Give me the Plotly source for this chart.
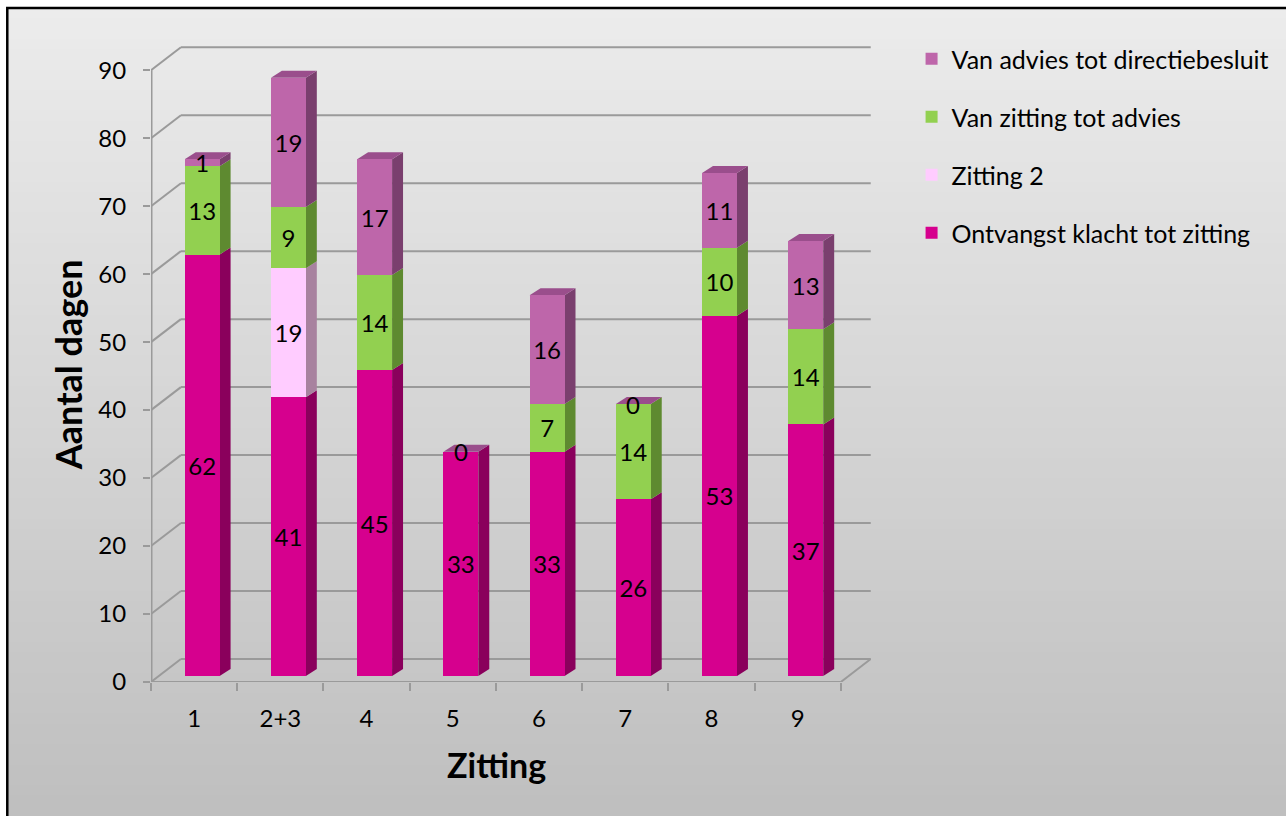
import plotly.graph_objects as go

# ---------------- data ----------------
categories = ["1", "2+3", "4", "5", "6", "7", "8", "9"]
ontvangst = [62, 41, 45, 33, 33, 26, 53, 37]
zitting2 = [None, 19, None, None, None, None, None, None]
zitting_advies = [13, 9, 14, None, 7, 14, 10, 14]
advies_besluit = [1, 19, 17, 0, 16, 0, 11, 13]
series_names = ["Ontvangst klacht tot zitting", "Zitting 2",
                "Van zitting tot advies", "Van advies tot directiebesluit"]
y_ticks = [0, 10, 20, 30, 40, 50, 60, 70, 80, 90]
x_title = "Zitting"
y_title = "Aantal dagen"

# ---------------- styles ----------------
front_colors = ["#D6008E", "#FFCCFF", "#92D050", "#BE66AA"]
side_colors = ["#8A005C", "#A8829F", "#5E8A30", "#7A3F6E"]
top_colors = ["#B0007A", "#E6B0E6", "#7DB040", "#9A4E8C"]
FONT = "Lato"
FS = 24
GRID = "#9a9a9a"

FIG_W, FIG_H = 1286, 816
PL, PR, PT, PB = 151, 872.4, 43, 682   # plot area in pixels
X_RANGE = [-0.5, 7.85]
Y_RANGE = [0, 94]
BAR_SHIFT = 0.882                     # bars sit slightly behind the front floor edge
BAR_W = 0.405
BAR_OFF = -0.109
DX, DY = 0.127, 1.03                  # bar depth
WDX, WDY = 0.347, 3.38                # wall depth


def px_x(px):
    return (px - PL) / (PR - PL)


def px_y(py):
    return (PB - py) / (PB - PT)


series = [ontvangst, zitting2, zitting_advies, advies_besluit]
xpos = list(range(len(categories)))

fig = go.Figure()
n_series = len(series)
for j, (name, vals, col) in enumerate(zip(series_names, series, front_colors)):
    fig.add_trace(go.Bar(
        x=xpos, y=vals, name=name, marker=dict(color=col, line=dict(width=0)),
        width=BAR_W, offset=BAR_OFF, yaxis="y2",
        text=["" if (v is None or v == 0) else str(v) for v in vals],
        textposition="inside", insidetextanchor="middle", textangle=0,
        constraintext="none", textfont=dict(family=FONT, size=FS, color="black"),
        legendgroup=name, legendrank=n_series - j, hoverinfo="skip",
    ))

annotations = []
# zero labels at the top of the stack
cum = [0] * len(categories)
for vals in series:
    for i, v in enumerate(vals):
        if v is None:
            continue
        cum[i] += v
        if v == 0:
            annotations.append(dict(x=i + BAR_OFF + BAR_W / 2, y=cum[i], xref="x", yref="y2",
                                    text="0", showarrow=False, xanchor="center",
                                    yanchor="middle",
                                    font=dict(family=FONT, size=FS, color="black")))

shapes = []
# background gradient
n = 80
top_c, bot_c = 236, 190
step = (FIG_H + 10 - 8) / n
for k in range(n):
    y0 = 8 + step * k
    y1 = y0 + step + 2
    c = round(top_c + (bot_c - top_c) * (k + 0.5) / n)
    shapes.append(dict(type="rect", xref="paper", yref="paper", layer="below",
                       x0=px_x(7), x1=px_x(FIG_W + 10), y0=px_y(y1), y1=px_y(y0),
                       fillcolor=f"rgb({c},{c},{c})", line=dict(width=0)))
# outer frame
shapes.append(dict(type="rect", xref="paper", yref="paper", layer="above",
                   x0=px_x(7), x1=px_x(FIG_W + 10), y0=px_y(FIG_H + 10), y1=px_y(8),
                   line=dict(color="black", width=2.5)))

# walls / gridlines
for v in y_ticks:
    shapes.append(dict(type="line", xref="x", yref="y", layer="below",
                       x0=X_RANGE[0], y0=v, x1=X_RANGE[0] + WDX, y1=v + WDY,
                       line=dict(color=GRID, width=2)))
    shapes.append(dict(type="line", xref="x", yref="y", layer="below",
                       x0=X_RANGE[0] + WDX, y0=v + WDY, x1=len(categories) - 0.5 + WDX,
                       y1=v + WDY, line=dict(color=GRID, width=2)))
# front floor edge and right floor edge
shapes.append(dict(type="line", xref="x", yref="y", layer="below",
                   x0=-0.5, y0=0, x1=len(categories) - 0.5, y1=0,
                   line=dict(color=GRID, width=2)))
shapes.append(dict(type="line", xref="x", yref="y", layer="below",
                   x0=len(categories) - 0.5, y0=0, x1=len(categories) - 0.5 + WDX, y1=WDY,
                   line=dict(color=GRID, width=2)))
# front vertical axis
shapes.append(dict(type="line", xref="x", yref="y", layer="below",
                   x0=-0.5, y0=0, x1=-0.5, y1=y_ticks[-1],
                   line=dict(color=GRID, width=3)))

# 3D bar faces (on the main y axis, shifted like the bars, drawn beneath the traces)
cum = [0] * len(categories)
topmost = [None] * len(categories)
for j, vals in enumerate(series):
    for i, v in enumerate(vals):
        if v is None:
            continue
        b = cum[i]
        t = b + v
        cum[i] = t
        topmost[i] = j
        if v > 0:
            x1 = i + BAR_OFF + BAR_W
            bb, tt = b + BAR_SHIFT, t + BAR_SHIFT
            path = (f"M{x1},{bb} L{x1 + DX},{bb + DY} L{x1 + DX},{tt + DY} L{x1},{tt} Z")
            shapes.append(dict(type="path", xref="x", yref="y", path=path, layer="below",
                               fillcolor=side_colors[j], line=dict(width=0)))
for i in range(len(categories)):
    j = topmost[i]
    tt = cum[i] + BAR_SHIFT
    x0 = i + BAR_OFF
    x1 = x0 + BAR_W
    path = f"M{x0},{tt} L{x0 + DX},{tt + DY} L{x1 + DX},{tt + DY} L{x1},{tt} Z"
    shapes.append(dict(type="path", xref="x", yref="y", path=path, layer="below",
                       fillcolor=top_colors[j], line=dict(width=0)))

annotations += [
    dict(text=f"<b>{y_title}</b>", xref="paper", yref="paper", x=px_x(68), y=px_y(365),
         xanchor="center", yanchor="middle",
         showarrow=False, textangle=-90, font=dict(family=FONT, size=36, color="black")),
    dict(text=f"<b>{x_title}</b>", xref="paper", yref="paper", x=px_x(497), y=px_y(765),
         xanchor="center", yanchor="middle",
         showarrow=False, font=dict(family=FONT, size=34, color="black")),
]

fig.update_layout(
    width=FIG_W, height=FIG_H, barmode="stack",
    margin=dict(l=PL, r=FIG_W - PR, t=PT, b=FIG_H - PB),
    paper_bgcolor="white", plot_bgcolor="rgba(0,0,0,0)",
    font=dict(family=FONT, size=FS, color="black"),
    xaxis=dict(range=X_RANGE, tickmode="array", tickvals=xpos, ticktext=categories,
               ticks="", showgrid=False, zeroline=False, showline=False,
               ticklabelstandoff=20,
               minor=dict(tickmode="array", tickvals=[k - 0.5 for k in range(len(categories) + 1)],
                          ticks="outside", ticklen=8, tickcolor=GRID, tickwidth=2,
                          showgrid=False),
               tickfont=dict(family=FONT, size=FS, color="black")),
    yaxis=dict(range=Y_RANGE, tickmode="array", tickvals=y_ticks, ticks="outside",
               ticklen=7, tickcolor=GRID, tickwidth=2, showgrid=False, zeroline=False,
               showline=False, ticklabelstandoff=12,
               tickfont=dict(family=FONT, size=FS, color="black")),
    yaxis2=dict(range=[Y_RANGE[0] - BAR_SHIFT, Y_RANGE[1] - BAR_SHIFT], overlaying="y",
                visible=False),
    legend=dict(x=px_x(912), y=px_y(36), xanchor="left", yanchor="top",
                traceorder="grouped", tracegroupgap=22.5, bgcolor="rgba(0,0,0,0)",
                font=dict(family=FONT, size=25, color="black")),
    shapes=shapes, annotations=annotations, showlegend=True,
)

fig.write_html("out.html")
